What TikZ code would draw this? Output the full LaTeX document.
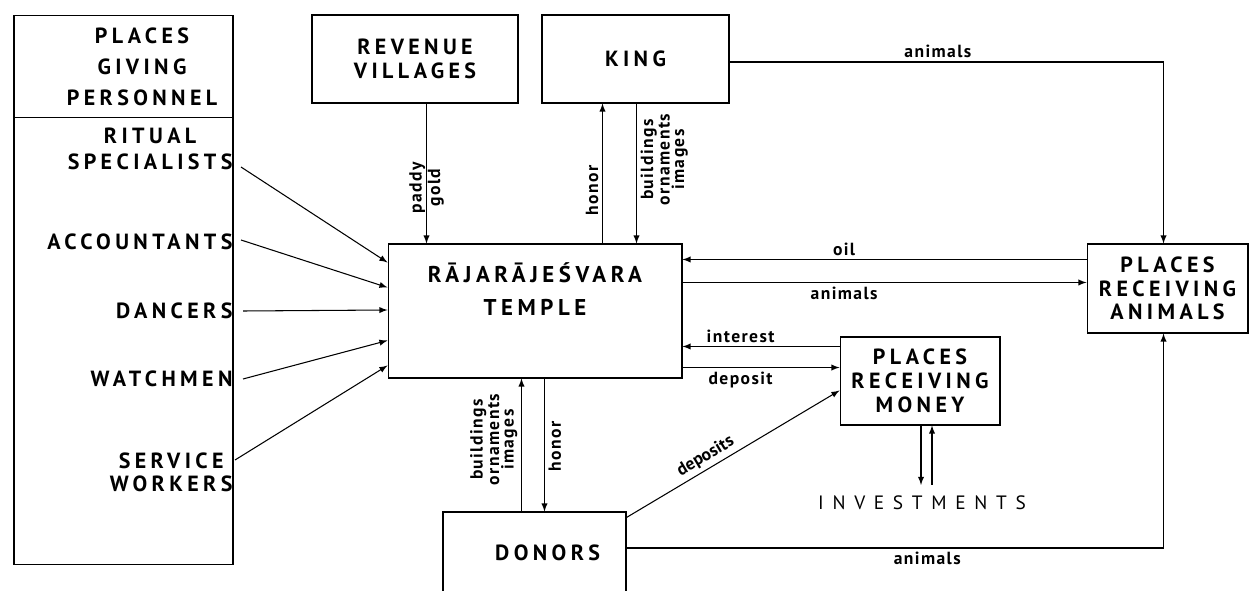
\documentclass[tikz,border=0pt]{standalone}
\usepackage{fontspec}
\setmainfont{PT Sans}
\newfontfamily\boxfont[LetterSpace=20]{PT Sans}
\newfontfamily\thinfont[LetterSpace=45]{PT Sans}
\newfontfamily\lblfont[LetterSpace=8]{PT Sans}
\usetikzlibrary{positioning,arrows,calc}

\begin{document}
\begin{tikzpicture}[
  x=0.02cm, y=-0.02cm,
  line width=0.6pt,
  box/.style={draw, inner sep=0pt, align=center, font=\boxfont\bfseries\fontsize{12.5}{13.5}\selectfont},
  item/.style={anchor=east, inner sep=0pt, align=center, font=\boxfont\bfseries\fontsize{12.5}{15}\selectfont},
  lbl/.style={inner sep=2pt, align=center, font=\lblfont\bfseries\fontsize{10}{7}\selectfont},
  arr/.style={draw, -latex}
]
\clip (0,0) rectangle (1250,591);

% boxes
\node[box, minimum width=4.38cm, minimum height=11cm] (giving) at (123.5,290) {};
\node[item, anchor=center, font=\boxfont\bfseries\fontsize{12.5}{17.5}\selectfont] (givhead) at (142,67) {PLACES\\GIVING\\PERSONNEL};
\draw ($(giving.north west)+(0,103)$) -- ($(giving.north east)+(0,103)$);
\node[box, minimum width=4.12cm, minimum height=1.76cm] (revenue) at (415,59) {REVENUE\\VILLAGES};
\node[box, minimum width=3.74cm, minimum height=1.76cm] (king) at (635.5,59) {KING};
\node[box, minimum width=5.88cm, minimum height=2.68cm,
      font=\boxfont\bfseries\fontsize{13}{19}\selectfont] (temple) at (535,311) {RĀJARĀJEŚVARA\\TEMPLE\\[6pt]};
\node[box, minimum width=3.22cm, minimum height=1.78cm] (pra) at (1167.5,288.5) {PLACES\\RECEIVING\\ANIMALS};
\node[box, minimum width=3.2cm, minimum height=1.76cm] (prm) at (920,381) {PLACES\\RECEIVING\\MONEY};
\node[box, minimum width=3.66cm, minimum height=1.64cm] (donors) at (534.5,553) {\hspace{1.2em}DONORS};
\node[inner sep=6pt, font=\thinfont\fontsize{11}{12}\selectfont] (invest) at (922,503) {INVESTMENTS};

% personnel
\node[item] (ritual) at (233,149) {RITUAL\\SPECIALISTS};
\node[item] (accountants) at (233,242) {ACCOUNTANTS};
\node[item] (dancers) at (233,311) {DANCERS};
\node[item] (watchmen) at (233,379) {WATCHMEN};
\node[item, font=\boxfont\bfseries\fontsize{12.5}{13}\selectfont] (service) at (233,472) {SERVICE\\WORKERS};

\draw[arr] ($(ritual.east)+(8,18)$) -- ($(temple.north west)+(0,19)$);
\draw[arr] ($(accountants.east)+(8,-2)$) -- ($(temple.north west)+(0,44)$);
\draw[arr] ($(dancers.east)+(10,0)$) -- ($(temple.west)+(0,-1)$);
\draw[arr] ($(watchmen.east)+(10,0)$) -- ($(temple.south west)+(0,-38)$);
\draw[arr] ($(service.east)+(2,-12)$) -- ($(temple.south west)+(0,-13)$);

% connector ends
\path ($(revenue.south west)+(115,0)$) coordinate (rvfoot)
      ($(king.south west)+(61,0)$) coordinate (khonor)
      ($(king.south west)+(95,0)$) coordinate (kgift)
      ($(king.east)+(0,3)$) coordinate (kanim)
      ($(pra.north)+(-4,0)$) coordinate (ptop)
      ($(pra.south)+(-4,0)$) coordinate (pbot)
      ($(pra.north west)+(0,16)$) coordinate (oilsrc)
      ($(temple.north east)+(0,39)$) coordinate (anisrc)
      ($(prm.north west)+(0,10)$) coordinate (intsrc)
      ($(temple.south east)+(0,-11)$) coordinate (depsrc)
      ($(donors.north west)+(79,0)$) coordinate (dgift)
      ($(donors.north west)+(102,0)$) coordinate (dhonor)
      ($(donors.north east)+(0,6)$) coordinate (ddep)
      ($(prm.south west)+(0,-35)$) coordinate (mdep)
      ($(donors.east)+(0,-5)$) coordinate (danim)
      ($(prm.south)+(1,0)$) coordinate (mout)
      ($(prm.south)+(12,0)$) coordinate (min);

\draw[arr] (rvfoot) -- (rvfoot |- temple.north)
  node[lbl, pos=0.6, rotate=90, font=\lblfont\bfseries\fontsize{10}{10.5}\selectfont] {paddy\\gold};
\draw[arr] (khonor |- temple.north) -- (khonor) node[lbl, pos=0.38, rotate=90, above] {honor};
\draw[arr] (kgift) -- (kgift |- temple.north) node[lbl, pos=0.4, rotate=90, below] {buildings\\ornaments\\images};
\draw[arr] (kanim) -| (ptop) node[lbl, pos=0.24, above] {animals};
\draw[arr] (oilsrc) -- (oilsrc -| temple.east) node[lbl, pos=0.6, above] {oil};
\draw[arr] (anisrc) -- (anisrc -| pra.west) node[lbl, pos=0.4, below] {animals};
\draw[arr] (intsrc) -- (intsrc -| temple.east) node[lbl, pos=0.63, above] {interest};
\draw[arr] (depsrc) -- (depsrc -| prm.west) node[lbl, pos=0.37, below] {deposit};
\draw[arr] (dgift) -- (dgift |- temple.south) node[lbl, pos=0.54, rotate=90, above] {buildings\\ornaments\\images};
\draw[arr] (dhonor |- temple.south) -- (dhonor) node[lbl, pos=0.51, rotate=90, below] {honor};
\draw[arr] (ddep) -- (mdep) node[lbl, pos=0.4, sloped, above, font=\bfseries\fontsize{10}{7}\selectfont] {deposits};
\draw[arr] (danim) -| (pbot) node[lbl, pos=0.28, below] {animals};
\draw[arr] (mout) -- (mout |- invest.north);
\draw[arr] (min |- invest.north) -- (min);
\end{tikzpicture}
\end{document}
